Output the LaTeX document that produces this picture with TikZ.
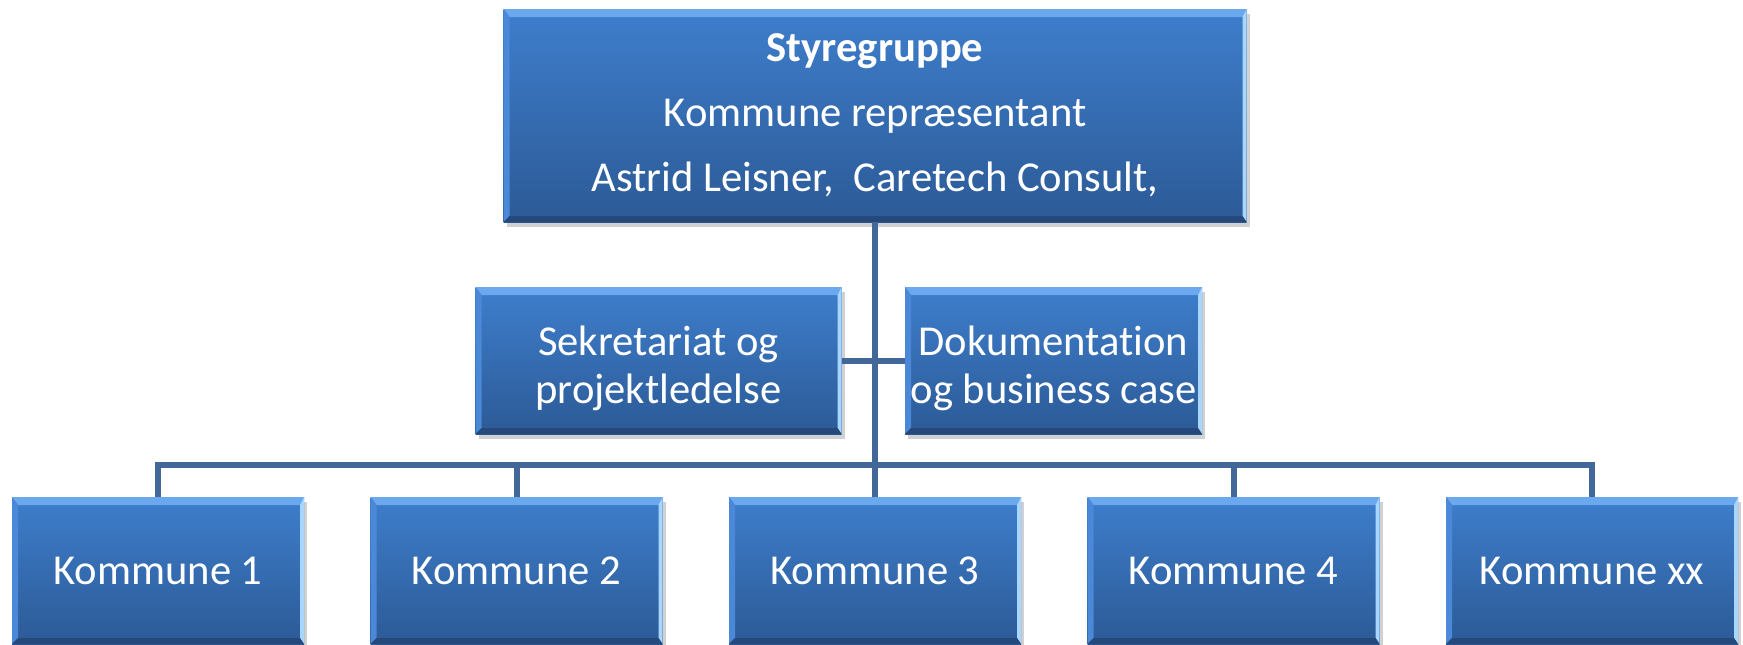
\documentclass[tikz,border=0pt]{standalone}
\usepackage{fontspec}
\setmainfont{Carlito}[Ligatures=NoCommon]
\usetikzlibrary{positioning,calc,shadows}

\definecolor{boxtop}{HTML}{3E7ECC}
\definecolor{boxbot}{HTML}{2C5A96}
\definecolor{bevtop}{HTML}{6CA8EE}
\definecolor{bevleft}{HTML}{4B89D8}
\definecolor{bevright}{HTML}{A9D6FF}
\definecolor{bevbot}{HTML}{24497A}
\definecolor{linkcol}{HTML}{42689A}

\tikzset{
  bevel/.style={path picture={
    \coordinate (sw) at (path picture bounding box.south west);
    \coordinate (ne) at (path picture bounding box.north east);
    \coordinate (nw) at (sw |- ne);
    \coordinate (se) at (ne |- sw);
    \fill[bevtop]   (nw) -- (ne) -- ($(ne)+(-2pt,-4pt)$) -- ($(nw)+(3pt,-4pt)$) -- cycle;
    \fill[bevleft]  (nw) -- (sw) -- ($(sw)+(3pt,3pt)$) -- ($(nw)+(3pt,-4pt)$) -- cycle;
    \fill[bevright] (ne) -- (se) -- ($(se)+(-2pt,3pt)$) -- ($(ne)+(-2pt,-4pt)$) -- cycle;
    \fill[bevbot]   (sw) -- (se) -- ($(se)+(-2pt,3pt)$) -- ($(sw)+(3pt,3pt)$) -- cycle;
  }},
  orgbox/.style={rectangle, inner sep=0pt, top color=boxtop, bottom color=boxbot,
    text=white, align=center, font=\fontsize{21.3}{32.5}\selectfont, bevel,
    drop shadow={shadow xshift=1.5pt, shadow yshift=-2.5pt, opacity=0.3, fill=black!60}},
  midbox/.style={minimum height=73.5pt, text height=46.5pt, font=\fontsize{21.3}{24}\selectfont},
  kbox/.style={minimum width=146pt, minimum height=73.5pt},
  link/.style={draw=linkcol, line width=3pt, line join=miter},
}

\begin{document}
\begin{tikzpicture}[x=0.5pt, y=-0.5pt]
  \useasboundingbox (0,0) rectangle (1743,644);

  % Define nodes
  \node[orgbox, minimum width=371.5pt, minimum height=106.5pt] (styr) at (875,115.5)
    {\textbf{Styregruppe}\\Kommune repræsentant\\Astrid Leisner,\ \ Caretech Consult,};
  \node[orgbox, midbox, minimum width=183pt] (sek) at (658.5,360.5) {Sekretariat og\\projektledelse};
  \node[orgbox, midbox, minimum width=148.5pt] (dok) at (1053.5,360.5) {Dokumentation\\og business case};

  \node[orgbox, kbox] (k1) at (158,570.5) {Kommune 1};
  \node[orgbox, kbox] (k2) at (516.5,570.5) {Kommune 2};
  \node[orgbox, kbox] (k3) at (875,570.5) {Kommune 3};
  \node[orgbox, kbox] (k4) at (1233.5,570.5) {Kommune 4};
  \node[orgbox, kbox] (k5) at (1592,570.5) {Kommune xx};

  \coordinate (bus) at (875,465);

  % Draw edges
  \draw[link] (styr.south) -- (k3.north);
  \draw[link] (sek.east) -- (dok.west);
  \foreach \k in {k1,k2,k4,k5}
    \draw[link] (bus) -| (\k.north);
\end{tikzpicture}
\end{document}
